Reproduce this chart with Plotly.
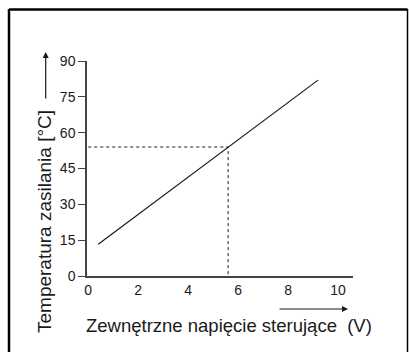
import plotly.graph_objects as go

# Characteristic: supply temperature vs. external control voltage
voltage = [0.4, 9.2]          # V
temperature = [13.3, 82.0]    # °C

# Example reading marked with dotted guide lines
read_v = 5.6
read_t = 54.0

x_ticks = [0, 2, 4, 6, 8, 10]
y_ticks = [0, 15, 30, 45, 60, 75, 90]

W, H = 409, 352
L, R, T, B = 87, 56, 61, 76

FONT = "Liberation Sans, Arial, Helvetica, sans-serif"
INK = "#1a1a1a"

fig = go.Figure()

# guide lines to the example reading
fig.add_trace(go.Scatter(
    x=[0, read_v, read_v], y=[read_t, read_t, 0],
    mode="lines", line=dict(color=INK, width=1, dash="dot"),
    hoverinfo="skip", showlegend=False,
))

# characteristic line
fig.add_trace(go.Scatter(
    x=voltage, y=temperature, mode="lines",
    line=dict(color=INK, width=1.2), showlegend=False,
))

fig.update_xaxes(
    range=[-0.05, 10.6], tickvals=x_ticks, ticktext=[str(v) for v in x_ticks],
    showgrid=False, zeroline=False, showline=True, linecolor="#444", linewidth=1.5,
    ticks="", tickfont=dict(family=FONT, size=14, color=INK),
)
fig.update_yaxes(
    range=[0, 90], tickvals=y_ticks, ticktext=[str(v) for v in y_ticks],
    showgrid=False, zeroline=False, showline=True, linecolor="#444", linewidth=1.5,
    ticks="outside", ticklen=7, tickcolor="#444", tickwidth=1.2,
    tickfont=dict(family=FONT, size=14, color=INK),
)

def px_x(p):
    return (p - L) / (W - L - R)

def px_y(p):
    return (H - B - p) / (H - T - B)

annotations = [
    # axis titles
    dict(text="Zewnętrzne napięcie sterujące  (V)", x=px_x(229), y=px_y(325),
         xref="paper", yref="paper", showarrow=False, xanchor="center", yanchor="middle",
         font=dict(family=FONT, size=18.5, color=INK)),
    dict(text="Temperatura zasilania [°C]", x=px_x(44), y=px_y(222), textangle=-90,
         xref="paper", yref="paper", showarrow=False, xanchor="center", yanchor="middle",
         font=dict(family=FONT, size=19, color=INK)),
    # direction arrows
    dict(text="", x=px_x(45.7), y=px_y(52), xref="paper", yref="paper",
         showarrow=True, ax=0, ay=48, arrowhead=2, arrowsize=1, arrowwidth=1.2,
         arrowcolor=INK),
    dict(text="", x=px_x(348), y=px_y(309), xref="paper", yref="paper",
         showarrow=True, ax=-70, ay=0, arrowhead=2, arrowsize=1, arrowwidth=1.2,
         arrowcolor=INK),
]

# outer frame (left, top, right edges)
shapes = [
    dict(type="line", xref="paper", yref="paper", x0=px_x(9), x1=px_x(9),
         y0=px_y(9), y1=px_y(352), line=dict(color="black", width=2.5)),
    dict(type="line", xref="paper", yref="paper", x0=px_x(9), x1=px_x(407.5),
         y0=px_y(9.5), y1=px_y(9.5), line=dict(color="black", width=2.5)),
    dict(type="line", xref="paper", yref="paper", x0=px_x(407.5), x1=px_x(407.5),
         y0=px_y(9), y1=px_y(352), line=dict(color="black", width=1.5)),
]

fig.update_layout(
    width=W, height=H,
    margin=dict(l=L, r=R, t=T, b=B),
    paper_bgcolor="white", plot_bgcolor="white",
    annotations=annotations, shapes=shapes,
    showlegend=False,
)

fig.write_html("out.html")
